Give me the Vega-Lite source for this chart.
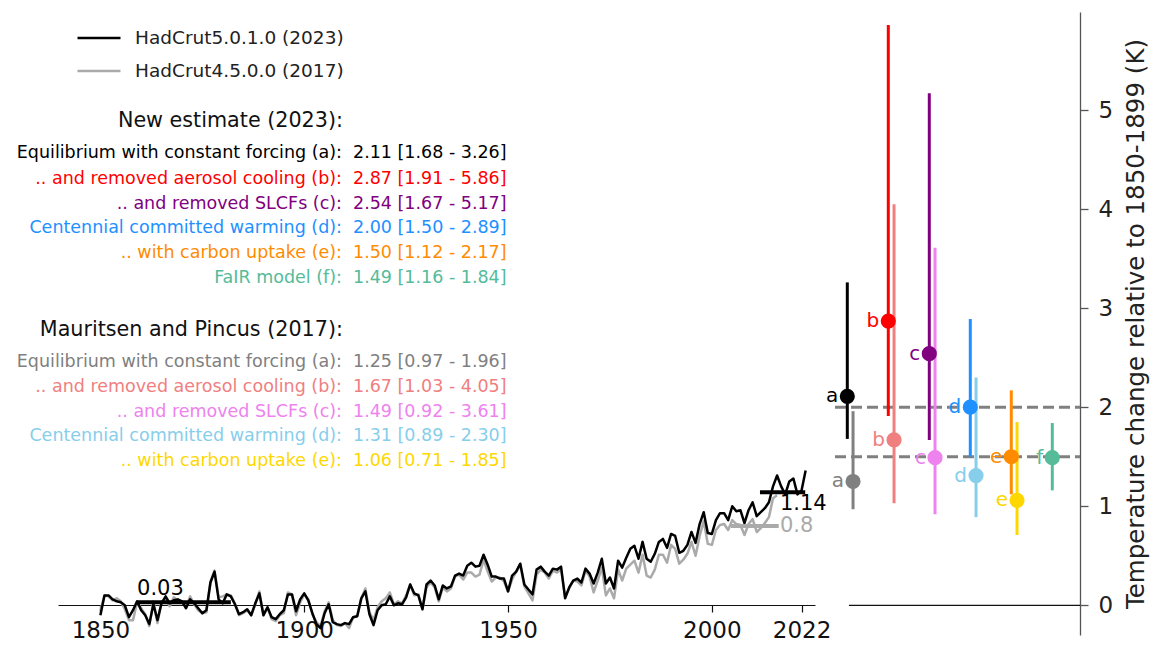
{
"$schema": "https://vega.github.io/schema/vega-lite/v6.json",
"width": 1022,
"height": 623,
"autosize": {"type": "none"},
"padding": {"left": 58, "top": 12, "right": 75, "bottom": 13},
"config": {"view": {"stroke": null}, "font": "DejaVu Sans", "text": {"font": "DejaVu Sans"}},
"datasets": {
"hc5": [
{"year":1850,"T":-0.10},{"year":1851,"T":0.10},{"year":1852,"T":0.10},{"year":1853,"T":0.06},{"year":1854,"T":0.04},{"year":1855,"T":0.03},{"year":1856,"T":0.00},{"year":1857,"T":-0.12},{"year":1858,"T":-0.05},{"year":1859,"T":0.04},
{"year":1860,"T":-0.05},{"year":1861,"T":-0.10},{"year":1862,"T":-0.19},{"year":1863,"T":0.01},{"year":1864,"T":-0.15},{"year":1865,"T":0.02},{"year":1866,"T":0.09},{"year":1867,"T":0.02},{"year":1868,"T":0.05},{"year":1869,"T":0.06},
{"year":1870,"T":0.04},{"year":1871,"T":-0.03},{"year":1872,"T":0.06},{"year":1873,"T":0.02},{"year":1874,"T":-0.03},{"year":1875,"T":-0.08},{"year":1876,"T":-0.05},{"year":1877,"T":0.23},{"year":1878,"T":0.34},{"year":1879,"T":0.06},
{"year":1880,"T":0.02},{"year":1881,"T":0.11},{"year":1882,"T":0.09},{"year":1883,"T":0.01},{"year":1884,"T":-0.09},{"year":1885,"T":-0.07},{"year":1886,"T":-0.04},{"year":1887,"T":-0.10},{"year":1888,"T":0.02},{"year":1889,"T":0.12},
{"year":1890,"T":-0.10},{"year":1891,"T":-0.02},{"year":1892,"T":-0.12},{"year":1893,"T":-0.14},{"year":1894,"T":-0.09},{"year":1895,"T":-0.05},{"year":1896,"T":0.11},{"year":1897,"T":0.11},{"year":1898,"T":-0.06},{"year":1899,"T":0.06},
{"year":1900,"T":0.12},{"year":1901,"T":0.05},{"year":1902,"T":-0.08},{"year":1903,"T":-0.19},{"year":1904,"T":-0.23},{"year":1905,"T":-0.08},{"year":1906,"T":0.01},{"year":1907,"T":-0.17},{"year":1908,"T":-0.19},{"year":1909,"T":-0.20},
{"year":1910,"T":-0.18},{"year":1911,"T":-0.19},{"year":1912,"T":-0.12},{"year":1913,"T":-0.11},{"year":1914,"T":0.07},{"year":1915,"T":0.14},{"year":1916,"T":-0.09},{"year":1917,"T":-0.20},{"year":1918,"T":-0.05},{"year":1919,"T":0.00},
{"year":1920,"T":0.01},{"year":1921,"T":0.09},{"year":1922,"T":0.00},{"year":1923,"T":0.02},{"year":1924,"T":0.01},{"year":1925,"T":0.08},{"year":1926,"T":0.21},{"year":1927,"T":0.12},{"year":1928,"T":0.10},{"year":1929,"T":-0.04},
{"year":1930,"T":0.21},{"year":1931,"T":0.25},{"year":1932,"T":0.20},{"year":1933,"T":0.06},{"year":1934,"T":0.20},{"year":1935,"T":0.17},{"year":1936,"T":0.19},{"year":1937,"T":0.30},{"year":1938,"T":0.32},{"year":1939,"T":0.30},
{"year":1940,"T":0.40},{"year":1941,"T":0.43},{"year":1942,"T":0.39},{"year":1943,"T":0.40},{"year":1944,"T":0.51},{"year":1945,"T":0.41},{"year":1946,"T":0.29},{"year":1947,"T":0.29},{"year":1948,"T":0.27},{"year":1949,"T":0.27},
{"year":1950,"T":0.14},{"year":1951,"T":0.30},{"year":1952,"T":0.34},{"year":1953,"T":0.42},{"year":1954,"T":0.21},{"year":1955,"T":0.16},{"year":1956,"T":0.11},{"year":1957,"T":0.36},{"year":1958,"T":0.39},{"year":1959,"T":0.34},
{"year":1960,"T":0.30},{"year":1961,"T":0.37},{"year":1962,"T":0.36},{"year":1963,"T":0.39},{"year":1964,"T":0.07},{"year":1965,"T":0.18},{"year":1966,"T":0.25},{"year":1967,"T":0.27},{"year":1968,"T":0.23},{"year":1969,"T":0.37},
{"year":1970,"T":0.32},{"year":1971,"T":0.22},{"year":1972,"T":0.33},{"year":1973,"T":0.47},{"year":1974,"T":0.22},{"year":1975,"T":0.28},{"year":1976,"T":0.17},{"year":1977,"T":0.45},{"year":1978,"T":0.38},{"year":1979,"T":0.48},
{"year":1980,"T":0.57},{"year":1981,"T":0.60},{"year":1982,"T":0.47},{"year":1983,"T":0.64},{"year":1984,"T":0.47},{"year":1985,"T":0.44},{"year":1986,"T":0.52},{"year":1987,"T":0.64},{"year":1988,"T":0.67},{"year":1989,"T":0.58},
{"year":1990,"T":0.72},{"year":1991,"T":0.70},{"year":1992,"T":0.53},{"year":1993,"T":0.55},{"year":1994,"T":0.61},{"year":1995,"T":0.74},{"year":1996,"T":0.63},{"year":1997,"T":0.82},{"year":1998,"T":0.94},{"year":1999,"T":0.73},
{"year":2000,"T":0.72},{"year":2001,"T":0.86},{"year":2002,"T":0.93},{"year":2003,"T":0.93},{"year":2004,"T":0.86},{"year":2005,"T":1.00},{"year":2006,"T":0.95},{"year":2007,"T":0.96},{"year":2008,"T":0.83},{"year":2009,"T":0.96},
{"year":2010,"T":1.04},{"year":2011,"T":0.90},{"year":2012,"T":0.94},{"year":2013,"T":0.98},{"year":2014,"T":1.04},{"year":2015,"T":1.20},{"year":2016,"T":1.31},{"year":2017,"T":1.20},{"year":2018,"T":1.12},{"year":2019,"T":1.25},
{"year":2020,"T":1.28},{"year":2021,"T":1.12},{"year":2022,"T":1.16},{"year":2023,"T":1.36}
],
"hc4": [
{"year":1850,"T":-0.06},{"year":1851,"T":0.10},{"year":1852,"T":0.09},{"year":1853,"T":0.05},{"year":1854,"T":0.07},{"year":1855,"T":0.04},{"year":1856,"T":-0.04},{"year":1857,"T":-0.15},{"year":1858,"T":-0.15},{"year":1859,"T":0.03},
{"year":1860,"T":-0.03},{"year":1861,"T":-0.09},{"year":1862,"T":-0.21},{"year":1863,"T":0.04},{"year":1864,"T":-0.18},{"year":1865,"T":0.04},{"year":1866,"T":0.06},{"year":1867,"T":-0.01},{"year":1868,"T":0.08},{"year":1869,"T":0.05},
{"year":1870,"T":0.04},{"year":1871,"T":-0.02},{"year":1872,"T":0.09},{"year":1873,"T":0.01},{"year":1874,"T":-0.05},{"year":1875,"T":-0.08},{"year":1876,"T":-0.07},{"year":1877,"T":0.24},{"year":1878,"T":0.35},{"year":1879,"T":0.08},
{"year":1880,"T":0.09},{"year":1881,"T":0.11},{"year":1882,"T":0.10},{"year":1883,"T":0.02},{"year":1884,"T":-0.10},{"year":1885,"T":-0.08},{"year":1886,"T":-0.05},{"year":1887,"T":-0.10},{"year":1888,"T":0.01},{"year":1889,"T":0.14},
{"year":1890,"T":-0.10},{"year":1891,"T":-0.02},{"year":1892,"T":-0.14},{"year":1893,"T":-0.16},{"year":1894,"T":-0.10},{"year":1895,"T":-0.08},{"year":1896,"T":0.13},{"year":1897,"T":0.11},{"year":1898,"T":-0.10},{"year":1899,"T":0.03},
{"year":1900,"T":0.11},{"year":1901,"T":0.06},{"year":1902,"T":-0.09},{"year":1903,"T":-0.17},{"year":1904,"T":-0.21},{"year":1905,"T":-0.06},{"year":1906,"T":0.03},{"year":1907,"T":-0.15},{"year":1908,"T":-0.20},{"year":1909,"T":-0.21},
{"year":1910,"T":-0.18},{"year":1911,"T":-0.23},{"year":1912,"T":-0.12},{"year":1913,"T":-0.11},{"year":1914,"T":0.07},{"year":1915,"T":0.17},{"year":1916,"T":-0.07},{"year":1917,"T":-0.15},{"year":1918,"T":-0.02},{"year":1919,"T":0.04},
{"year":1920,"T":0.07},{"year":1921,"T":0.13},{"year":1922,"T":0.01},{"year":1923,"T":0.04},{"year":1924,"T":0.02},{"year":1925,"T":0.10},{"year":1926,"T":0.21},{"year":1927,"T":0.10},{"year":1928,"T":0.11},{"year":1929,"T":-0.04},
{"year":1930,"T":0.18},{"year":1931,"T":0.23},{"year":1932,"T":0.18},{"year":1933,"T":0.04},{"year":1934,"T":0.18},{"year":1935,"T":0.14},{"year":1936,"T":0.17},{"year":1937,"T":0.29},{"year":1938,"T":0.31},{"year":1939,"T":0.26},
{"year":1940,"T":0.33},{"year":1941,"T":0.33},{"year":1942,"T":0.29},{"year":1943,"T":0.31},{"year":1944,"T":0.46},{"year":1945,"T":0.34},{"year":1946,"T":0.24},{"year":1947,"T":0.28},{"year":1948,"T":0.28},{"year":1949,"T":0.24},
{"year":1950,"T":0.14},{"year":1951,"T":0.26},{"year":1952,"T":0.34},{"year":1953,"T":0.41},{"year":1954,"T":0.19},{"year":1955,"T":0.12},{"year":1956,"T":0.05},{"year":1957,"T":0.31},{"year":1958,"T":0.36},{"year":1959,"T":0.33},
{"year":1960,"T":0.27},{"year":1961,"T":0.35},{"year":1962,"T":0.33},{"year":1963,"T":0.36},{"year":1964,"T":0.09},{"year":1965,"T":0.17},{"year":1966,"T":0.25},{"year":1967,"T":0.24},{"year":1968,"T":0.20},{"year":1969,"T":0.35},
{"year":1970,"T":0.29},{"year":1971,"T":0.13},{"year":1972,"T":0.25},{"year":1973,"T":0.38},{"year":1974,"T":0.10},{"year":1975,"T":0.17},{"year":1976,"T":0.07},{"year":1977,"T":0.36},{"year":1978,"T":0.25},{"year":1979,"T":0.37},
{"year":1980,"T":0.41},{"year":1981,"T":0.45},{"year":1982,"T":0.33},{"year":1983,"T":0.51},{"year":1984,"T":0.30},{"year":1985,"T":0.28},{"year":1986,"T":0.36},{"year":1987,"T":0.51},{"year":1988,"T":0.51},{"year":1989,"T":0.43},
{"year":1990,"T":0.61},{"year":1991,"T":0.57},{"year":1992,"T":0.42},{"year":1993,"T":0.46},{"year":1994,"T":0.52},{"year":1995,"T":0.64},{"year":1996,"T":0.50},{"year":1997,"T":0.70},{"year":1998,"T":0.85},{"year":1999,"T":0.62},
{"year":2000,"T":0.61},{"year":2001,"T":0.76},{"year":2002,"T":0.81},{"year":2003,"T":0.82},{"year":2004,"T":0.76},{"year":2005,"T":0.86},{"year":2006,"T":0.82},{"year":2007,"T":0.81},{"year":2008,"T":0.71},{"year":2009,"T":0.82},
{"year":2010,"T":0.87},{"year":2011,"T":0.74},{"year":2012,"T":0.78},{"year":2013,"T":0.83},{"year":2014,"T":0.89},{"year":2015,"T":1.08},{"year":2016,"T":1.11}
],
"means": [
{"x":1859,"x2":1882,"T":0.03,"series":"HadCrut5.0.1.0 (2023)","lab":"0.03","lx":1859,"ly":0.164},
{"x":2011.8,"x2":2022.9,"T":1.14,"series":"HadCrut5.0.1.0 (2023)","lab":"1.14","lx":2016.7,"ly":1.02},
{"x":2004.7,"x2":2016.4,"T":0.8,"series":"HadCrut4.5.0.0 (2017)","lab":"0.8","lx":2016.7,"ly":0.80}
],
"notes": [
{"lab":"Equilibrium with constant forcing (a):","val":"2.11 [1.68 - 3.26]","key":"new a","y":4.566},
{"lab":".. and removed aerosol cooling (b):","val":"2.87 [1.91 - 5.86]","key":"new b","y":4.306},
{"lab":".. and removed SLCFs (c):","val":"2.54 [1.67 - 5.17]","key":"new c","y":4.053},
{"lab":"Centennial committed warming (d):","val":"2.00 [1.50 - 2.89]","key":"new d","y":3.808},
{"lab":".. with carbon uptake (e):","val":"1.50 [1.12 - 2.17]","key":"new e","y":3.556},
{"lab":"FaIR model (f):","val":"1.49 [1.16 - 1.84]","key":"new f","y":3.303},
{"lab":"Equilibrium with constant forcing (a):","val":"1.25 [0.97 - 1.96]","key":"old a","y":2.461},
{"lab":".. and removed aerosol cooling (b):","val":"1.67 [1.03 - 4.05]","key":"old b","y":2.208},
{"lab":".. and removed SLCFs (c):","val":"1.49 [0.92 - 3.61]","key":"old c","y":1.956},
{"lab":"Centennial committed warming (d):","val":"1.31 [0.89 - 2.30]","key":"old d","y":1.710},
{"lab":".. with carbon uptake (e):","val":"1.06 [0.71 - 1.85]","key":"old e","y":1.461}
],
"heads": [
{"h":"New estimate (2023):","y":4.885},
{"h":"Mauritsen and Pincus (2017):","y":2.781}
],
"est": [
{"id":"a","key":"new a","pos":0,"est":2.11,"lo":1.68,"hi":3.26},
{"id":"b","key":"new b","pos":1,"est":2.87,"lo":1.91,"hi":5.86},
{"id":"c","key":"new c","pos":2,"est":2.54,"lo":1.67,"hi":5.17},
{"id":"d","key":"new d","pos":3,"est":2.00,"lo":1.50,"hi":2.89},
{"id":"e","key":"new e","pos":4,"est":1.50,"lo":1.12,"hi":2.17},
{"id":"f","key":"new f","pos":5,"est":1.49,"lo":1.16,"hi":1.84},
{"id":"a","key":"old a","pos":0.14,"est":1.25,"lo":0.97,"hi":1.96},
{"id":"b","key":"old b","pos":1.14,"est":1.67,"lo":1.03,"hi":4.05},
{"id":"c","key":"old c","pos":2.14,"est":1.49,"lo":0.92,"hi":3.61},
{"id":"d","key":"old d","pos":3.14,"est":1.31,"lo":0.89,"hi":2.30},
{"id":"e","key":"old e","pos":4.14,"est":1.06,"lo":0.71,"hi":1.85}
],
"refs": [
{"x":-0.3,"x2":5.676,"y":2.0},
{"x":-0.3,"x2":5.676,"y":1.5}
],
"zero": [
{"x":0.04,"x2":5.676,"y":0}
]
},
"resolve": {"scale": {"x": "independent"}, "axis": {"x": "independent", "y": "independent"}},
"layer": [
{
"layer": [
{
"data": {"name": "hc4"},
"mark": {"type": "line", "strokeWidth": 2.5, "strokeJoin": "round"},
"encoding": {
"x": {"field": "year", "type": "quantitative", "title": null,
"scale": {"domain": [1839.6, 2025.3], "range": [0, 757], "nice": false, "zero": false},
"axis": {"values": [1850, 1900, 1950, 2000, 2022], "format": "d", "offset": -30, "tickSize": 7, "labelFontSize": 23, "labelColor": "#111", "domainColor": "#111", "tickColor": "#111", "grid": false, "title": null, "labelPadding": 7, "domainWidth": 1.2, "tickWidth": 1.2, "labelFont": "DejaVu Sans"}},
"y": {"field": "T", "type": "quantitative", "title": null, "axis": null,
"scale": {"domain": [-0.3, 5.99], "nice": false, "zero": false}},
"stroke": {"datum": "HadCrut4.5.0.0 (2017)", "title": null,
"scale": {"domain": ["HadCrut5.0.1.0 (2023)", "HadCrut4.5.0.0 (2017)"], "range": ["#000000", "#aaaaaa"]},
"legend": {"orient": "none", "legendX": 18, "legendY": 3, "title": null, "symbolType": "stroke", "symbolSize": 1849, "symbolStrokeWidth": 2.5, "labelFontSize": 18.5, "labelFont": "DejaVu Sans", "labelColor": "#222", "labelOffset": 13, "labelLimit": 0, "rowPadding": -1}}
}
},
{
"data": {"name": "hc5"},
"mark": {"type": "line", "strokeWidth": 2.5, "strokeJoin": "round"},
"encoding": {
"x": {"field": "year", "type": "quantitative", "title": null},
"y": {"field": "T", "type": "quantitative", "title": null, "axis": null},
"stroke": {"datum": "HadCrut5.0.1.0 (2023)", "title": null}
}
},
{
"data": {"name": "means"},
"mark": {"type": "rule", "strokeWidth": 4},
"encoding": {
"x": {"field": "x", "type": "quantitative", "title": null},
"x2": {"field": "x2"},
"y": {"field": "T", "type": "quantitative", "title": null, "axis": null},
"stroke": {"field": "series", "type": "nominal", "title": null}
}
},
{
"data": {"name": "means"},
"mark": {"type": "text", "align": "left", "baseline": "middle", "fontSize": 21},
"encoding": {
"x": {"field": "lx", "type": "quantitative", "title": null},
"y": {"field": "ly", "type": "quantitative", "title": null, "axis": null},
"text": {"field": "lab"},
"color": {"field": "series", "type": "nominal", "legend": null,
"scale": {"domain": ["new a", "new b", "new c", "new d", "new e", "new f", "old a", "old b", "old c", "old d", "old e", "HadCrut5.0.1.0 (2023)", "HadCrut4.5.0.0 (2017)"],
"range": ["#000000", "#ff0000", "#800080", "#1e90ff", "#ff8c00", "#55bb99", "#808080", "#f08080", "#ee82ee", "#87ceeb", "#ffd700", "#000000", "#aaaaaa"]}}
}
},
{
"data": {"name": "notes"},
"mark": {"type": "text", "align": "right", "baseline": "middle", "fontSize": 17.5},
"encoding": {
"x": {"datum": 1909.27, "type": "quantitative", "title": null},
"y": {"field": "y", "type": "quantitative", "title": null, "axis": null},
"text": {"field": "lab"},
"color": {"field": "key", "type": "nominal", "legend": null}
}
},
{
"data": {"name": "notes"},
"mark": {"type": "text", "align": "left", "baseline": "middle", "fontSize": 17.5},
"encoding": {
"x": {"datum": 1911.97, "type": "quantitative", "title": null},
"y": {"field": "y", "type": "quantitative", "title": null, "axis": null},
"text": {"field": "val"},
"color": {"field": "key", "type": "nominal", "legend": null}
}
},
{
"data": {"name": "heads"},
"mark": {"type": "text", "align": "right", "baseline": "middle", "fontSize": 20.7, "color": "#111"},
"encoding": {
"x": {"datum": 1909.51, "type": "quantitative", "title": null},
"y": {"field": "y", "type": "quantitative", "title": null, "axis": null},
"text": {"field": "h"}
}
}
]
},
{
"layer": [
{
"data": {"name": "refs"},
"mark": {"type": "rule", "strokeWidth": 3, "strokeDash": [11, 5], "color": "#808080"},
"encoding": {
"x": {"field": "x", "type": "quantitative", "axis": null, "title": null,
"scale": {"domain": [-0.3, 5.676], "range": [777, 1022], "nice": false, "zero": false}},
"x2": {"field": "x2"},
"y": {"field": "y", "type": "quantitative",
"axis": {"orient": "right", "values": [0, 1, 2, 3, 4, 5], "tickSize": 8, "labelFontSize": 23, "labelFont": "DejaVu Sans", "titleFont": "DejaVu Sans", "titleFontWeight": "normal", "titleFontSize": 24.5, "title": "Temperature change relative to 1850-1899 (K)", "titleAngle": 270, "titleBaseline": "top", "grid": false, "domainColor": "#555", "tickColor": "#555", "labelColor": "#222", "titleColor": "#222", "labelPadding": 10, "titlePadding": 12, "domainWidth": 1.3, "tickWidth": 1.3}}
}
},
{
"data": {"name": "zero"},
"mark": {"type": "rule", "strokeWidth": 1.2, "color": "#111"},
"encoding": {
"x": {"field": "x", "type": "quantitative", "axis": null, "title": null},
"x2": {"field": "x2"},
"y": {"field": "y", "type": "quantitative",
"axis": {"orient": "right", "values": [0, 1, 2, 3, 4, 5], "tickSize": 8, "labelFontSize": 23, "labelFont": "DejaVu Sans", "titleFont": "DejaVu Sans", "titleFontWeight": "normal", "titleFontSize": 24.5, "title": "Temperature change relative to 1850-1899 (K)", "titleAngle": 270, "titleBaseline": "top", "grid": false, "domainColor": "#555", "tickColor": "#555", "labelColor": "#222", "titleColor": "#222", "labelPadding": 10, "titlePadding": 12, "domainWidth": 1.3, "tickWidth": 1.3}}
}
},
{
"data": {"name": "est"},
"mark": {"type": "rule", "strokeWidth": 3},
"encoding": {
"x": {"field": "pos", "type": "quantitative", "axis": null, "title": null},
"y": {"field": "lo", "type": "quantitative",
"axis": {"orient": "right", "values": [0, 1, 2, 3, 4, 5], "tickSize": 8, "labelFontSize": 23, "labelFont": "DejaVu Sans", "titleFont": "DejaVu Sans", "titleFontWeight": "normal", "titleFontSize": 24.5, "title": "Temperature change relative to 1850-1899 (K)", "titleAngle": 270, "titleBaseline": "top", "grid": false, "domainColor": "#555", "tickColor": "#555", "labelColor": "#222", "titleColor": "#222", "labelPadding": 10, "titlePadding": 12, "domainWidth": 1.3, "tickWidth": 1.3}},
"y2": {"field": "hi"},
"color": {"field": "key", "type": "nominal", "legend": null}
}
},
{
"data": {"name": "est"},
"mark": {"type": "point", "shape": "circle", "filled": true, "opacity": 1, "size": 230},
"encoding": {
"x": {"field": "pos", "type": "quantitative", "axis": null, "title": null},
"y": {"field": "est", "type": "quantitative",
"axis": {"orient": "right", "values": [0, 1, 2, 3, 4, 5], "tickSize": 8, "labelFontSize": 23, "labelFont": "DejaVu Sans", "titleFont": "DejaVu Sans", "titleFontWeight": "normal", "titleFontSize": 24.5, "title": "Temperature change relative to 1850-1899 (K)", "titleAngle": 270, "titleBaseline": "top", "grid": false, "domainColor": "#555", "tickColor": "#555", "labelColor": "#222", "titleColor": "#222", "labelPadding": 10, "titlePadding": 12, "domainWidth": 1.3, "tickWidth": 1.3}},
"color": {"field": "key", "type": "nominal", "legend": null}
}
},
{
"data": {"name": "est"},
"mark": {"type": "text", "align": "right", "baseline": "middle", "dx": -9, "fontSize": 20},
"encoding": {
"x": {"field": "pos", "type": "quantitative", "axis": null, "title": null},
"y": {"field": "est", "type": "quantitative",
"axis": {"orient": "right", "values": [0, 1, 2, 3, 4, 5], "tickSize": 8, "labelFontSize": 23, "labelFont": "DejaVu Sans", "titleFont": "DejaVu Sans", "titleFontWeight": "normal", "titleFontSize": 24.5, "title": "Temperature change relative to 1850-1899 (K)", "titleAngle": 270, "titleBaseline": "top", "grid": false, "domainColor": "#555", "tickColor": "#555", "labelColor": "#222", "titleColor": "#222", "labelPadding": 10, "titlePadding": 12, "domainWidth": 1.3, "tickWidth": 1.3}},
"text": {"field": "id"},
"color": {"field": "key", "type": "nominal", "legend": null}
}
}
]
}
]
}
